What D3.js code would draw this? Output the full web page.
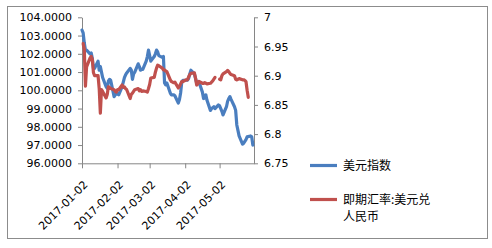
<!DOCTYPE html>
<html><head><meta charset="utf-8">
<script src="https://cdn.jsdelivr.net/npm/d3@7"></script>
<style>html,body{margin:0;padding:0;background:#fff;}svg{display:block;}</style>
</head><body><svg id="chart" width="492" height="248"></svg>
<script>
const dates = [
"2017-01-02","2017-01-03","2017-01-04","2017-01-05","2017-01-06","2017-01-09","2017-01-10","2017-01-11","2017-01-12","2017-01-13","2017-01-16","2017-01-17","2017-01-18","2017-01-19","2017-01-20","2017-01-23","2017-01-24","2017-01-25","2017-01-26","2017-01-27","2017-01-30","2017-01-31",
"2017-02-01","2017-02-02","2017-02-03","2017-02-06","2017-02-07","2017-02-08","2017-02-09","2017-02-10","2017-02-13","2017-02-14","2017-02-15","2017-02-16","2017-02-17","2017-02-20","2017-02-21","2017-02-22","2017-02-23","2017-02-24","2017-02-27","2017-02-28",
"2017-03-01","2017-03-02","2017-03-03","2017-03-06","2017-03-07","2017-03-08","2017-03-09","2017-03-10","2017-03-13","2017-03-14","2017-03-15","2017-03-16","2017-03-17","2017-03-20","2017-03-21","2017-03-22","2017-03-23","2017-03-24","2017-03-27","2017-03-28","2017-03-29","2017-03-30","2017-03-31",
"2017-04-03","2017-04-04","2017-04-05","2017-04-06","2017-04-07","2017-04-10","2017-04-11","2017-04-12","2017-04-13","2017-04-14","2017-04-17","2017-04-18","2017-04-19","2017-04-20","2017-04-21","2017-04-24","2017-04-25","2017-04-26","2017-04-27","2017-04-28",
"2017-05-01","2017-05-02","2017-05-03","2017-05-04","2017-05-05","2017-05-08","2017-05-09","2017-05-10","2017-05-11","2017-05-12","2017-05-15","2017-05-16","2017-05-17","2017-05-18","2017-05-19","2017-05-22","2017-05-23","2017-05-24","2017-05-25","2017-05-26","2017-05-27","2017-05-29","2017-05-30","2017-05-31"
];
const usdIndex = [
103.3,103.15,102.6,102.2,102.2,102.0,102.05,101.75,101.2,101.2,101.6,101.1,101.3,101.0,100.7,100.2,100.1,100.5,100.6,100.55,99.65,99.75,
99.8,99.8,99.75,100.2,100.45,100.7,100.85,100.95,101.2,101.1,100.6,100.9,101.0,101.45,101.3,101.1,101.15,101.15,101.6,101.85,
102.2,101.9,101.6,101.85,102.0,102.2,102.1,101.9,101.8,101.85,100.4,100.3,100.4,99.85,99.75,99.75,99.75,99.7,99.3,99.5,99.85,100.45,100.55,
100.55,100.55,100.65,100.9,101.1,100.9,100.65,100.4,100.45,100.45,99.9,99.55,99.7,99.75,99.45,98.9,99.0,99.05,99.1,99.0,
99.2,99.15,99.0,98.85,98.65,99.1,99.4,99.55,99.65,99.5,99.1,98.9,98.1,97.8,97.5,97.05,97.1,97.2,97.3,97.45,null,97.5,97.45,97.0
];
const usdCny = [
null,6.955,6.945,6.882,6.915,6.93,6.933,6.928,6.905,6.9,6.9,6.878,6.836,6.876,6.873,6.862,6.868,6.881,6.88,6.878,6.876,6.873,
6.872,6.876,6.876,6.884,6.88,6.881,6.878,6.876,6.861,6.868,6.87,6.873,6.876,6.878,6.874,6.876,6.873,6.874,6.873,6.872,
6.878,6.885,6.896,6.897,6.906,6.913,6.918,6.917,6.913,6.91,6.91,6.908,6.907,6.893,6.89,6.889,6.888,6.889,6.879,6.882,6.886,6.89,6.89,
6.893,6.893,6.898,6.902,6.904,6.905,6.896,6.884,6.886,6.89,6.887,6.887,6.888,6.887,6.886,6.887,6.889,6.891,6.894,6.897,
null,6.894,6.893,6.9,6.903,6.907,6.909,6.907,6.904,6.902,6.9,6.894,6.893,6.894,6.895,6.893,6.893,6.892,6.89,6.875,6.863,null,null,null
];
const xTickLabels = ["2017-01-02","2017-02-02","2017-03-02","2017-04-02","2017-05-02"];
const xDomain = ["2017-01-02","2017-06-01"];
const leftTicks = [96,97,98,99,100,101,102,103,104];
const rightTicks = [6.75,6.8,6.85,6.9,6.95,7];
const seriesNames = ["美元指数","即期汇率:美元兑人民币"];

const parse = d3.utcParse("%Y-%m-%d");
const svg = d3.select("#chart");
const font = "'DejaVu Sans', Verdana, sans-serif";
const axisColor = "#868686";
const blue = "#4a7ebf", red = "#c0504d";

svg.append("rect").attr("x",7.5).attr("y",6.5).attr("width",480).attr("height",232)
  .attr("fill","#fff").attr("stroke","#8c8c8c").attr("stroke-width",1);

const L = 82, R = 254, T = 17.3, B = 163.3;
const x = d3.scaleUtc().domain(xDomain.map(parse)).range([L,R]);
const yL = d3.scaleLinear().domain([96,104]).range([B,T]);
const yR = d3.scaleLinear().domain([6.75,7]).range([B,T]);

function styleAxis(g){
  g.selectAll("path,line").attr("stroke",axisColor).attr("stroke-width",1);
  g.selectAll("text").attr("fill","#000").style("font-family",font).style("font-size","11px");
}

const gL = svg.append("g").attr("transform",`translate(${L},0)`)
  .call(d3.axisLeft(yL).tickValues(leftTicks).tickFormat(d3.format(".4f")).tickSize(4).tickSizeOuter(0).tickPadding(6));
styleAxis(gL);

const gR = svg.append("g").attr("transform",`translate(${R},0)`)
  .call(d3.axisRight(yR).tickValues(rightTicks).tickFormat(d=>String(d)).tickSize(4).tickSizeOuter(0).tickPadding(6));
styleAxis(gR);

const gX = svg.append("g").attr("transform",`translate(0,${B})`)
  .call(d3.axisBottom(x).tickValues(xTickLabels.map(parse)).tickFormat(d3.utcFormat("%Y-%m-%d")).tickSize(5).tickSizeOuter(0));
styleAxis(gX);
gX.selectAll(".tick text").attr("text-anchor","end").attr("dy",null).attr("y",0)
  .attr("transform","translate(6,22) rotate(-45)");

const rows = dates.map((d,i)=>({date:parse(d), a:usdIndex[i], b:usdCny[i]}));

const lineA = d3.line().x(d=>x(d.date)).y(d=>yL(d.a));
svg.append("path").datum(rows.filter(d=>d.a!=null))
  .attr("d",lineA).attr("fill","none").attr("stroke",blue).attr("stroke-width",3.2).attr("stroke-linejoin","round").attr("stroke-linecap","round");

const lineB = d3.line().defined(d=>d.b!=null).x(d=>x(d.date)).y(d=>yR(d.b));
svg.append("path").datum(rows)
  .attr("d",lineB).attr("fill","none").attr("stroke",red).attr("stroke-width",3.2).attr("stroke-linejoin","round").attr("stroke-linecap","round");

// legend
const lg = svg.append("g").style("font-family","'Noto Sans CJK SC', sans-serif").style("font-size","12px").attr("fill","#000");
lg.append("line").attr("x1",310).attr("x2",337).attr("y1",165.5).attr("y2",165.5).attr("stroke",blue).attr("stroke-width",3.2);
lg.append("text").attr("x",343).attr("y",170).text(seriesNames[0]);
lg.append("line").attr("x1",310).attr("x2",337).attr("y1",199.5).attr("y2",199.5).attr("stroke",red).attr("stroke-width",3.2);
lg.append("text").attr("x",343).attr("y",203.5).text(seriesNames[1].slice(0,8));
lg.append("text").attr("x",343).attr("y",221).text(seriesNames[1].slice(8));
</script></body></html>
